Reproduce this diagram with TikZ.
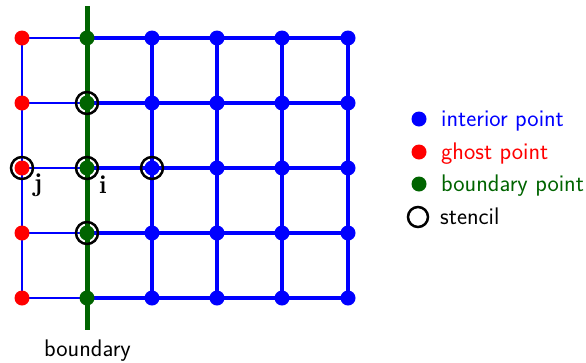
\documentclass[tikz,border=0pt]{standalone}
\usepackage{fontspec}
\definecolor{intblue}{RGB}{0,0,255}
\definecolor{ghostred}{RGB}{255,0,0}
\definecolor{bgreen}{RGB}{0,100,0}
\begin{document}
\begin{tikzpicture}[x=1pt,y=-1pt,
  dot/.style={circle,inner sep=0pt,minimum size=15pt},
  interior/.style={dot,fill=intblue},
  ghost/.style={dot,fill=ghostred},
  bnd/.style={dot,fill=bgreen},
  stencilring/.style={circle,draw=black,line width=2.5pt,inner sep=0pt,minimum size=22pt},
  thinline/.style={draw=intblue,line width=1.2pt},
  thickline/.style={draw=intblue,line width=3.2pt},
  wall/.style={draw=bgreen,line width=5pt},
  legtext/.style={anchor=base west,font=\sffamily\fontsize{24}{28}\selectfont,inner sep=0pt},
  idx/.style={anchor=base,font=\bfseries\fontsize{26}{30}\selectfont,inner sep=0pt}]
\useasboundingbox (0,0) rectangle (586,362);

% grid coordinates: column c, row r
\foreach \c/\x in {0/22,1/87,2/152,3/217,4/282,5/348}
  \foreach \r/\y in {0/38,1/103,2/168,3/233,4/298}
    \coordinate (g-\c-\r) at (\x,\y);

% ghost cells: thin lines
\draw[thinline] (g-0-0) -- (g-0-4);
\foreach \r in {0,...,4}
  \draw[thinline] (g-0-\r) -- (g-1-\r);

% interior cells: thick lines
\foreach \r in {0,...,4}
  \draw[thickline] (g-1-\r) -- (g-5-\r);
\foreach \c in {2,...,5}
  \draw[thickline] (g-\c-0) -- (g-\c-4);

% boundary wall
\coordinate (wtop) at (87,6);
\coordinate (wbot) at (87,330);
\draw[wall] (wtop) -- (wbot);
\node[legtext,anchor=base] (wlabel) at (87.5,356) {boundary};

% grid points
\foreach \r in {0,...,4} {
  \node[ghost] (p-0-\r) at (g-0-\r) {};
  \node[bnd] (p-1-\r) at (g-1-\r) {};
  \foreach \c in {2,...,5}
    \node[interior] (p-\c-\r) at (g-\c-\r) {};
}

% stencil
\node[stencilring] (s-j) at (g-0-2) {};
\node[stencilring] (s-i) at (g-1-2) {};
\node[stencilring] (s-e) at (g-2-2) {};
\node[stencilring] (s-n) at (g-1-1) {};
\node[stencilring] (s-s) at (g-1-3) {};
\node[idx] (lj) at (38,191) {j};
\node[idx] (li) at (103,193) {i};

% legend
\node[interior] (k-int) at (419,119) {};
\node[ghost] (k-gh) at (419,152) {};
\node[bnd] (k-bd) at (419,184) {};
\node[stencilring,minimum size=20pt] (k-st) at (418,217) {};
\node[legtext,text=intblue] (t-int) at (441,126) {interior point};
\node[legtext,text=ghostred] (t-gh) at (441,159) {ghost point};
\node[legtext,text=bgreen] (t-bd) at (441,191) {boundary point};
\node[legtext] (t-st) at (440,224) {stencil};
\end{tikzpicture}
\end{document}
